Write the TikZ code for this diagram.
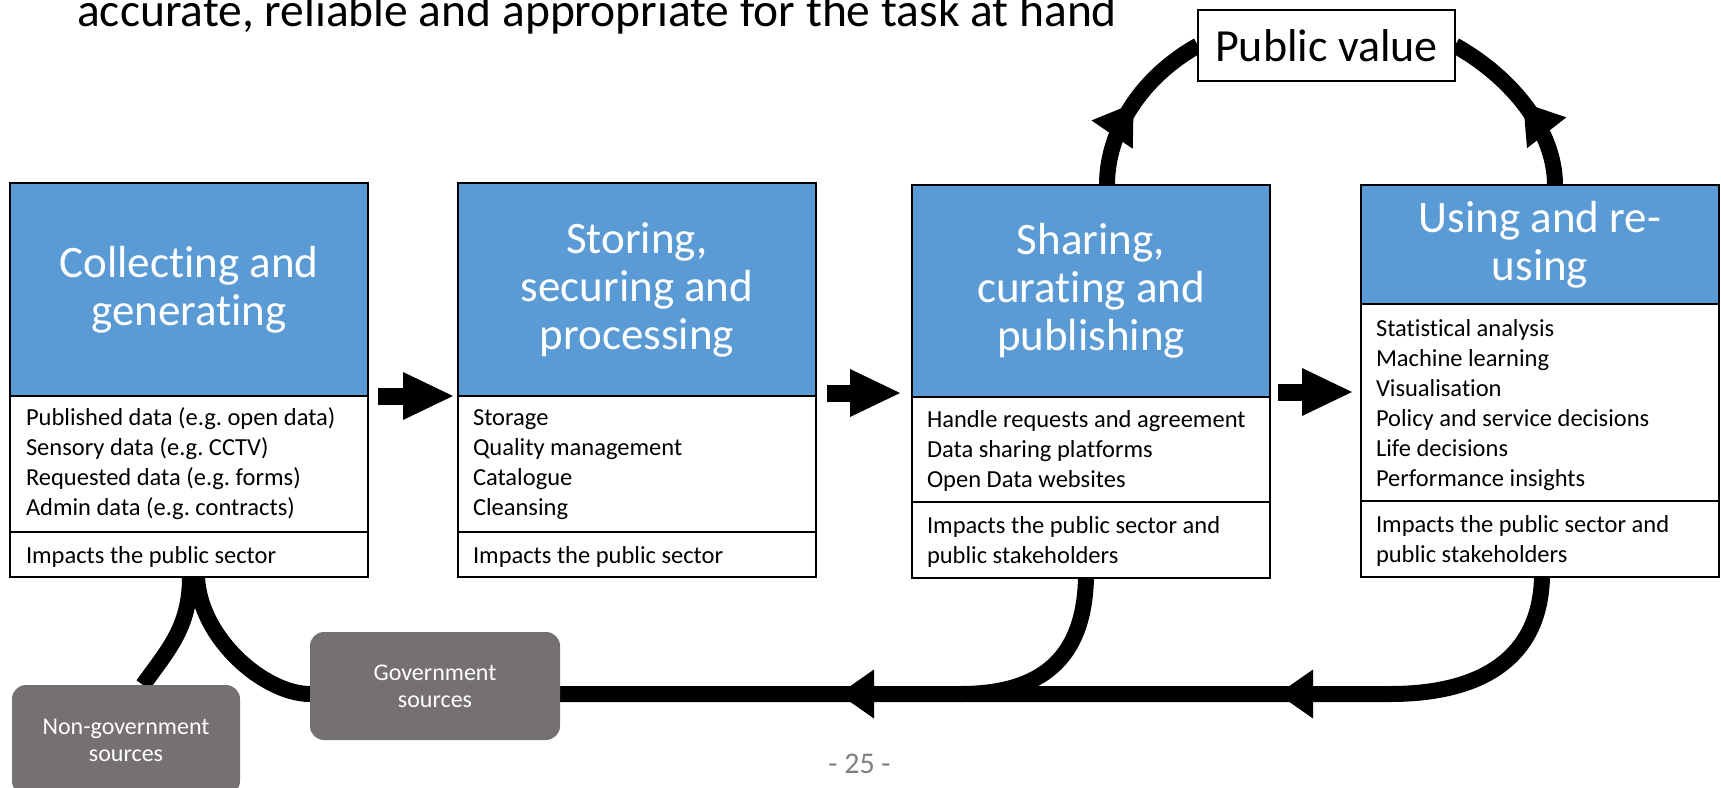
\documentclass[tikz,border=0pt]{standalone}
\usepackage{fontspec}
\setmainfont{Carlito}[Ligatures=NoCommon]
\usetikzlibrary{arrows.meta,decorations.markings,calc}
\definecolor{hdrblue}{RGB}{91,155,213}
\definecolor{srcgray}{RGB}{118,113,113}
\definecolor{pagegray}{RGB}{128,128,128}
\pgfdeclarelayer{bg}
\pgfsetlayers{bg,main}
\begin{document}
\begin{tikzpicture}[x=1pt,y=-1pt,
  box/.style={draw=black, line width=1.6pt, outer sep=0pt, inner sep=0pt, minimum width=358pt, anchor=north west},
  hdr/.style={box, fill=hdrblue, text=white, align=center, font=\fontsize{45}{48}\selectfont},
  part/.style={box, fill=white},
  body/.style={anchor=north west, inner sep=0pt, outer sep=0pt, align=left, font=\fontsize{24.5}{30}\selectfont},
  src/.style={fill=srcgray, rounded corners=14pt, text=white, align=center, inner sep=0pt, outer sep=0pt, font=\fontsize{24}{27}\selectfont},
  flow/.style={line width=16pt, draw=black},
  blockarrow/.style={line width=17pt, -{Triangle[length=50pt,width=48pt,line width=0pt]}},
  midarrow/.style={postaction={decorate}, decoration={markings, mark=at position #1 with {\arrow{Triangle[length=38pt,width=50pt,line width=0pt]}}}},
  botarrows/.style={postaction={decorate}, decoration={markings,
     mark=at position 112pt with {\arrow{Triangle[length=35pt,width=49pt,line width=0pt]}},
     mark=at position 551pt with {\arrow{Triangle[length=35pt,width=49pt,line width=0pt]}}}}
]
\useasboundingbox (0,0) rectangle (1721,787);

% ---------- clipped items at the page edges ----------
\begin{scope}
\clip (0,0) rectangle (1721,787);
\node[anchor=base west, inner sep=0pt, font=\fontsize{47.5}{57}\selectfont] (title) at (77,26) {accurate, reliable and appropriate for the task at hand};
\node[src, minimum width=228pt, minimum height=110pt] (ng) at (126,740) {Non-government\\sources};
\end{scope}

% ---------- box 1 ----------
\node[hdr, minimum height=213pt] (h1) at (10,183) {Collecting and\\generating};
\node[part, minimum height=136pt] (i1) at (h1.south west) {};
\node[part, minimum height=45pt] (m1) at (i1.south west) {};
\node[body] (t1) at ($(i1.north west)+(16,8)$) {\strut Published data (e.g.\ open data)\\\strut Sensory data (e.g.\ CCTV)\\\strut Requested data (e.g.\ forms)\\\strut Admin data (e.g.\ contracts)};
\node[body] (u1) at ($(m1.north west)+(16,10)$) {\strut Impacts the public sector};

% ---------- box 2 ----------
\node[hdr, minimum height=213pt] (h2) at (458,183) {Storing,\\securing and\\processing};
\node[part, minimum height=136pt] (i2) at (h2.south west) {};
\node[part, minimum height=45pt] (m2) at (i2.south west) {};
\node[body] (t2) at ($(i2.north west)+(15,8)$) {\strut Storage\\\strut Quality management\\\strut Catalogue\\\strut Cleansing};
\node[body] (u2) at ($(m2.north west)+(15,10)$) {\strut Impacts the public sector};

% ---------- box 3 ----------
\node[hdr, minimum height=212pt] (h3) at (912,185) {Sharing,\\curating and\\publishing};
\node[part, minimum height=105pt] (i3) at (h3.south west) {};
\node[part, minimum height=76pt] (m3) at (i3.south west) {};
\node[body] (t3) at ($(i3.north west)+(15,9)$) {\strut Handle requests and agreement\\\strut Data sharing platforms\\\strut Open Data websites};
\node[body] (u3) at ($(m3.north west)+(15,10)$) {\strut Impacts the public sector and\\\strut public stakeholders};

% ---------- box 4 ----------
\node[hdr, minimum height=119pt] (h4) at (1361,185) {Using and re-\\using};
\node[part, minimum height=197pt] (i4) at (h4.south west) {};
\node[part, minimum height=76pt] (m4) at (i4.south west) {};
\node[body] (t4) at ($(i4.north west)+(15,11)$) {\strut Statistical analysis\\\strut Machine learning\\\strut Visualisation\\\strut Policy and service decisions\\\strut Life decisions\\\strut Performance insights};
\node[body] (u4) at ($(m4.north west)+(15,10)$) {\strut Impacts the public sector and\\\strut public stakeholders};

% ---------- other nodes ----------
\node[draw=black, line width=1.6pt, fill=white, inner sep=0pt, outer sep=0pt, minimum width=257pt, minimum height=71pt, font=\fontsize{46}{50}\selectfont] (pv) at (1326.5,45.5) {Public value};
\node[src, minimum width=250pt, minimum height=108pt] (gov) at (435,686) {Government\\sources};
\node[anchor=base, inner sep=0pt, text=pagegray, font=\fontsize{30}{36}\selectfont] (pg) at (859.5,773) {- 25 -};

\coordinate (j4) at (1390,694);
\coordinate (j3) at (960,694);

% ---------- connectors ----------
\begin{pgfonlayer}{bg}
\draw[blockarrow] ($(h1.south east)+(10,0)$) -- ($(h2.south west)+(-5,0)$);
\draw[blockarrow] ($(h2.south east)+(11,-3)$) -- ($(h3.south west)+(-12,-4)$);
\draw[blockarrow] ($(h3.south east)+(8,-5)$) -- ($(h3.south east -| i4.west)+(-9,-5)$);

\draw[flow, midarrow=0.5] ($(h3.north west)+(195,0)$) .. controls +(0,-54) and +(-57,32) .. (pv.west);
\draw[flow, midarrow=0.5] ($(h4.north west)+(194,0)$) .. controls +(0,-54) and +(57,32) .. (pv.east);

\draw[flow] ($(m4.south west)+(181,0)$) .. controls +(-2,82) and +(90,0) .. (j4);
\draw[flow] ($(m3.south west)+(174,0)$) .. controls +(-2,82) and +(80,0) .. (j3);
\draw[flow, botarrows] (j4) -- (j4 -| gov.west) .. controls +(-45,0) and +(3,62) .. ($(m1.south west)+(187,0)$);
\draw[flow] ($(m1.south west)+(180,0)$) .. controls +(0,50) and +(25,-35) .. ($(ng.north)+(17,0)$);
\end{pgfonlayer}
\end{tikzpicture}
\end{document}
